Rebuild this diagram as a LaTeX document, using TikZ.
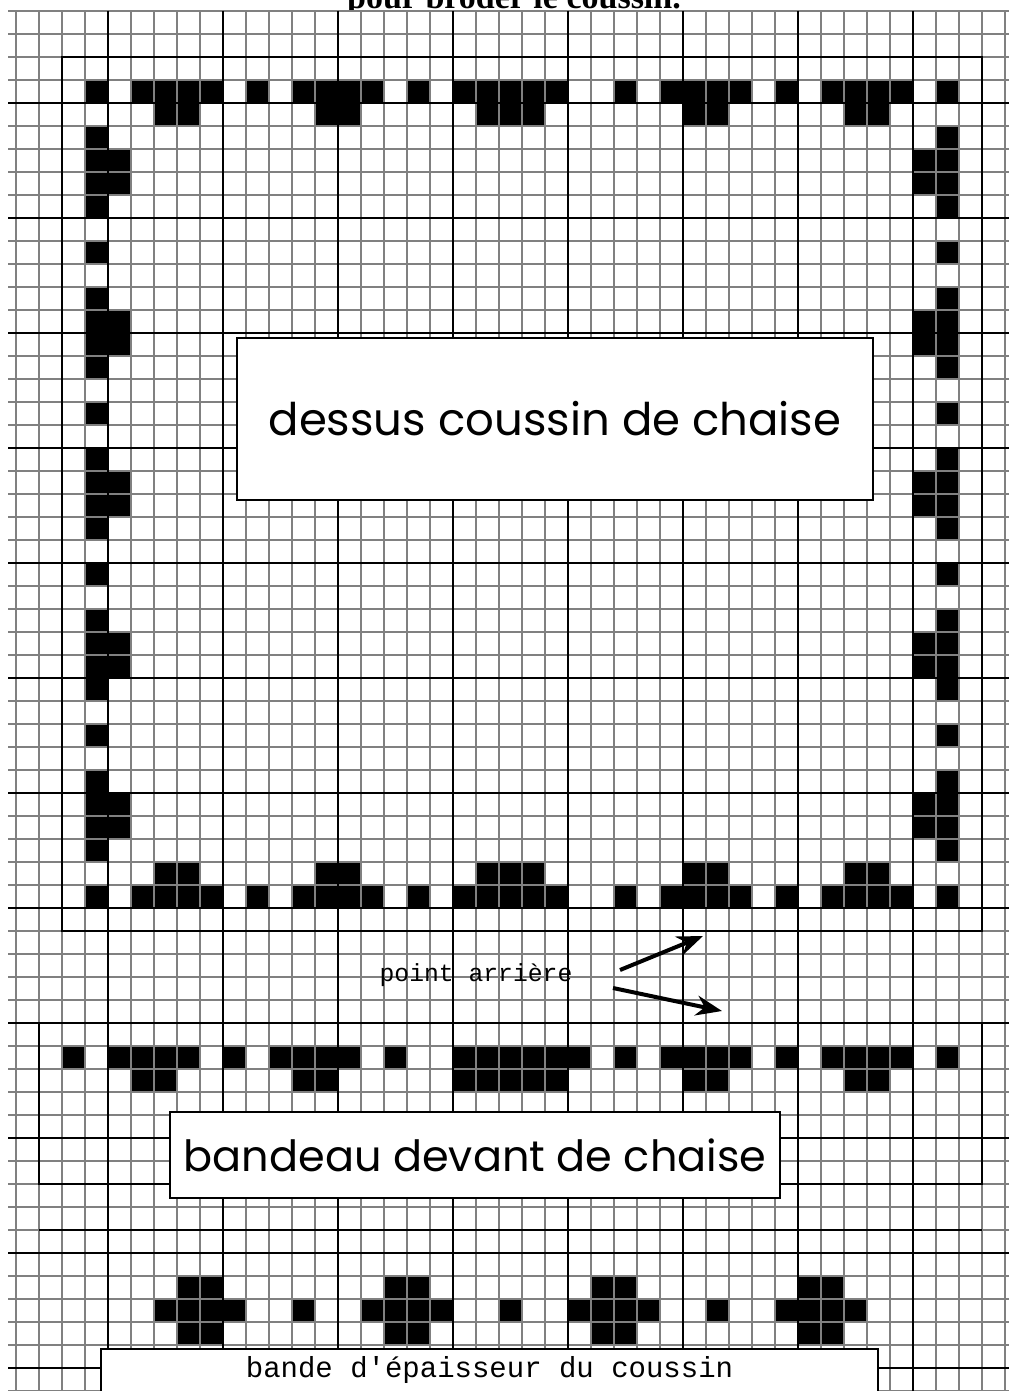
\documentclass[tikz,border=0pt]{standalone}
\usepackage{fontspec}
\setmainfont{Liberation Serif}
\newfontfamily\labelfont{Poppins}
\newfontfamily\notefont{Liberation Mono}
\usetikzlibrary{arrows.meta}

\begin{document}
\begin{tikzpicture}[x=1pt, y=-1pt,
  thinline/.style={draw=black!50, line width=1.4pt},
  majorline/.style={draw=black, line width=2pt},
  frame/.style={draw=black, line width=2.2pt},
  labelbox/.style={draw=black, line width=1.6pt, fill=white},
  stitch/.style={fill=black},
  pointer/.style={line width=4pt, -{Stealth[length=26pt,width=20pt]}}]
\useasboundingbox (0,0) rectangle (1009,1391);
\clip (0,0) rectangle (1009,1391);
\fill[white] (0,0) rectangle (1009,1391);
% title line, cut by the grid sheet
\node[font=\bfseries\fontsize{34}{40}\selectfont, anchor=base, inner sep=0pt] (title) at (514,9) {pour broder le coussin.};
\fill[white] (8,11) rectangle (1009,1391);
% stitches of the seat top (cells of 23px)
\foreach \i in {1,3,4,5,6,8,10,11,12,13,15,17,18,19,20,21,24,26,27,28,29,31,33,34,35,36,38} {
  \fill[stitch] ({62+23*\i},80) rectangle +(23,23);
  \fill[stitch] ({62+23*\i},885) rectangle +(23,23);
}
\foreach \i in {4,5,11,12,18,19,20,27,28,34,35} {
  \fill[stitch] ({62+23*\i},103) rectangle +(23,23);
  \fill[stitch] ({62+23*\i},862) rectangle +(23,23);
}
\foreach \j in {3,4,5,6,8,10,11,12,13,15,17,18,19,20,22,24,25,26,27,29,31,32,33,34} {
  \fill[stitch] (85,{57+23*\j}) rectangle +(23,23);
  \fill[stitch] (936,{57+23*\j}) rectangle +(23,23);
}
\foreach \j in {4,5,11,12,18,19,25,26,32,33} {
  \fill[stitch] (108,{57+23*\j}) rectangle +(23,23);
  \fill[stitch] (913,{57+23*\j}) rectangle +(23,23);
}
% front band
\foreach \m in {1,3,4,5,6,8,10,11,12,13,15,18,19,20,21,22,23,25,27,28,29,30,32,34,35,36,37,39}
  \fill[stitch] ({39+23*\m},1046) rectangle +(23,23);
\foreach \m in {4,5,11,12,18,19,20,21,22,28,29,35,36}
  \fill[stitch] ({39+23*\m},1069) rectangle +(23,23);
% thickness band: crosses and dots
\foreach \c in {2,11,20,29} {
  \fill[stitch] ({108+23*(\c+1)},1276) rectangle +(46,23);
  \fill[stitch] ({108+23*\c},1299) rectangle +(92,23);
  \fill[stitch] ({108+23*(\c+1)},1322) rectangle +(46,23);
}
\foreach \c in {8,17,26}
  \fill[stitch] ({108+23*\c},1299) rectangle +(23,23);
% grid
\foreach \k in {-4,...,39}
  \draw[thinline] ({108+23*\k},11) -- ({108+23*\k},1391);
\foreach \k in {-9,...,51}
  \draw[thinline] (8,{218+23*\k}) -- (1009,{218+23*\k});
\foreach \x in {108,223,...,913}
  \draw[majorline] (\x,11) -- (\x,1391);
\foreach \y in {103,218,...,1368}
  \draw[majorline] (8,\y) -- (1009,\y);
% outlines of the three parts
\draw[frame] (62,57) rectangle (982,931);
\draw[frame] (39,1023) rectangle (982,1184);
\draw[frame] (39,1230) -- (982,1230);
% labels
\node[labelbox, minimum width=636pt, minimum height=162pt, font=\labelfont\fontsize{45}{50}\selectfont] (dessus) at (555,419) {\raisebox{-6pt}{dessus coussin de chaise}};
\node[labelbox, minimum width=610pt, minimum height=86pt, font=\labelfont\fontsize{43}{48}\selectfont] (bandeau) at (475,1155) {bandeau devant de chaise};
\node[labelbox, anchor=north, minimum width=777pt, inner ysep=4pt, text height=25pt, text depth=20pt, font=\notefont\fontsize{29}{34}\selectfont] (bande) at (489.5,1348) {bande d'épaisseur du coussin};
% back stitch note
\node[font=\notefont\fontsize{24.7}{28}\selectfont, anchor=base, inner sep=0pt] (note) at (476,981) {point arrière};
\coordinate (tail1) at (620,970);
\coordinate (tip1) at (703,936);
\coordinate (tail2) at (613,988);
\coordinate (tip2) at (722,1011);
\draw[pointer] (tail1) -- (tip1);
\draw[pointer] (tail2) -- (tip2);
\end{tikzpicture}
\end{document}
